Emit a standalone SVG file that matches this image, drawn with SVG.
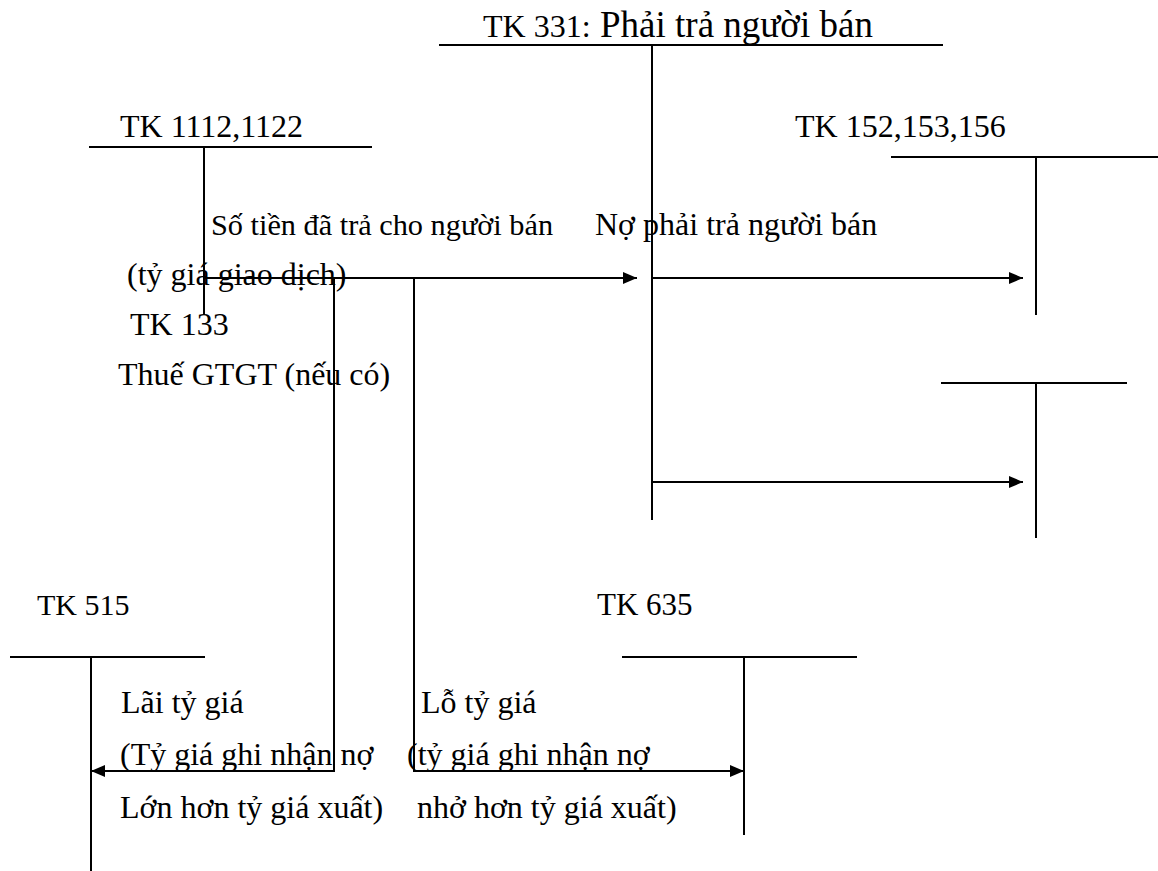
<svg xmlns="http://www.w3.org/2000/svg" width="1158" height="871" viewBox="0 0 1158 871">
<style>
text{font-family:"Liberation Serif","Times New Roman",serif;font-size:32px;fill:#000}
.big{font-size:37px}
.s30{font-size:30px}
.s31{font-size:31px}
.s303{font-size:30.3px}
.ln{stroke:#000;stroke-width:2;fill:none}
</style>
<defs>
<marker id="ah" viewBox="0 0 14 12" refX="14" refY="6" markerWidth="14" markerHeight="12" markerUnits="userSpaceOnUse" orient="auto">
<path d="M0,0 L14,6 L0,12 Z" fill="#000"/>
</marker>
</defs>
<rect width="1158" height="871" fill="#fff"/>
<g id="tk331">
<text x="483" y="37">TK 331:</text>
<text class="big" x="600" y="37">Phải trả người bán</text>
<line class="ln" x1="439" y1="45" x2="943" y2="45"/>
<line class="ln" x1="652" y1="45" x2="652" y2="520"/>
</g>
<g id="tk1112">
<text x="120" y="137">TK 1112,1122</text>
<line class="ln" x1="89" y1="147" x2="372" y2="147"/>
<line class="ln" x1="204" y1="147" x2="204" y2="315"/>
</g>
<g id="tk152">
<text x="795" y="137">TK 152,153,156</text>
<line class="ln" x1="891" y1="157" x2="1158" y2="157"/>
<line class="ln" x1="1036" y1="157" x2="1036" y2="315"/>
</g>
<g id="tk133">
<text x="130" y="335">TK 133</text>
<text x="118" y="385">Thuế GTGT (nếu có)</text>
<line class="ln" x1="941" y1="383" x2="1127" y2="383"/>
<line class="ln" x1="1036" y1="383" x2="1036" y2="538"/>
</g>
<g id="tk515">
<text class="s30" x="37" y="615">TK 515</text>
<line class="ln" x1="10" y1="657" x2="205" y2="657"/>
<line class="ln" x1="91" y1="657" x2="91" y2="871"/>
</g>
<g id="tk635">
<text class="s31" x="597" y="615">TK 635</text>
<line class="ln" x1="622" y1="657" x2="857" y2="657"/>
<line class="ln" x1="744" y1="657" x2="744" y2="835"/>
</g>
<g id="labels">
<text class="s303" x="211" y="235">Số tiền đã trả cho người bán</text>
<text x="595" y="235">Nợ phải trả người bán</text>
<text x="127" y="285">(tỷ giá giao dịch)</text>
<text x="121" y="713">Lãi tỷ giá</text>
<text x="120" y="765">(Tỷ giá ghi nhận nợ</text>
<text x="120" y="818">Lớn hơn tỷ giá xuất)</text>
<text x="421" y="713">Lỗ tỷ giá</text>
<text x="407" y="765">(tỷ giá ghi nhận nợ</text>
<text x="417" y="818">nhở hơn tỷ giá xuất)</text>
</g>
<g id="connectors">
<line class="ln" x1="204" y1="278" x2="637" y2="278" marker-end="url(#ah)"/>
<line class="ln" x1="652" y1="278" x2="1023" y2="278" marker-end="url(#ah)"/>
<line class="ln" x1="652" y1="482" x2="1023" y2="482" marker-end="url(#ah)"/>
<polyline class="ln" points="334,278 334,771 91,771" marker-end="url(#ah)"/>
<polyline class="ln" points="414,278 414,771 744,771" marker-end="url(#ah)"/>
</g>
</svg>
